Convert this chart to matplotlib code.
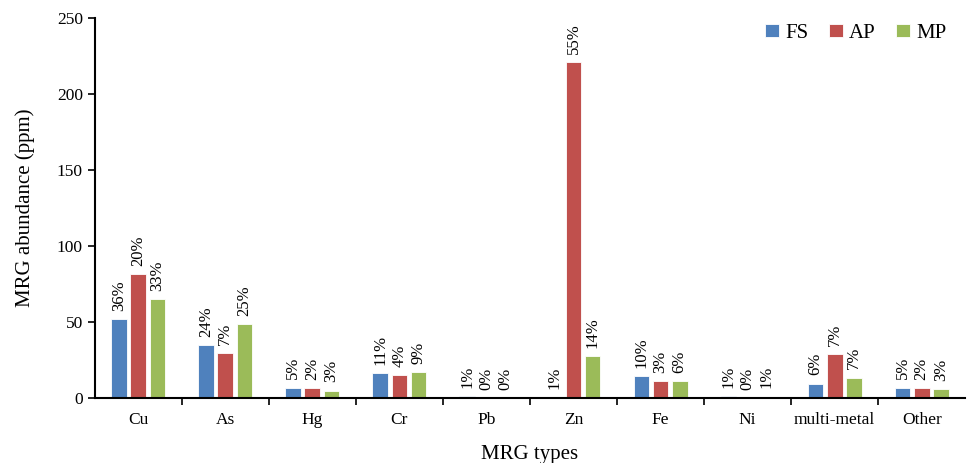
import numpy as np
import matplotlib.pyplot as plt

plt.rcParams['font.family'] = ['Liberation Serif', 'DejaVu Serif']

# Категорії та значення (ppm)
categories = ['Cu', 'As', 'Hg', 'Cr', 'Pb', 'Zn', 'Fe', 'Ni', 'multi-metal', 'Other']
fs = [52, 35, 7, 16.5, 1.5, 0.5, 14.5, 1.5, 9.5, 7]
ap = [81.5, 29.5, 6.5, 15, 0, 221, 11, 0, 29, 6.5]
mp = [65, 48.5, 5, 17, 0, 27.5, 11, 1, 13.5, 6]

fs_pct = ['36%', '24%', '5%', '11%', '1%', '1%', '10%', '1%', '6%', '5%']
ap_pct = ['20%', '7%', '2%', '4%', '0%', '55%', '3%', '0%', '7%', '2%']
mp_pct = ['33%', '25%', '3%', '9%', '0%', '14%', '6%', '1%', '7%', '3%']

series = [('FS', fs, fs_pct, '#4F81BD'),
          ('AP', ap, ap_pct, '#C0504D'),
          ('MP', mp, mp_pct, '#9BBB59')]

x = np.arange(len(categories))
width = 0.18
offsets = [-0.22, 0, 0.22]

fig = plt.figure(figsize=(9.76, 4.63), dpi=100)
ax = fig.add_axes([0.097, 0.14, 0.892, 0.821])

for (name, vals, pcts, color), off in zip(series, offsets):
    bars = ax.bar(x + off, vals, width, color=color, label=name,
                  edgecolor='white', linewidth=0.6)
    for b, p in zip(bars, pcts):
        ax.annotate(p, (b.get_x() + b.get_width() / 2, b.get_height()),
                    xytext=(0, 6), textcoords='offset points',
                    rotation=90, ha='center', va='bottom', fontsize=12)

ax.set_xlim(-0.5, len(categories) - 0.5)
ax.set_ylim(0, 250)
ax.set_yticks(np.arange(0, 251, 50))
ax.set_xticks(x)
ax.set_xticklabels(categories, fontsize=12.5)
ax.set_xticks(np.arange(0.5, len(categories) - 1, 1), minor=True)
ax.tick_params(axis='x', which='major', length=0, pad=10)
ax.tick_params(axis='x', which='minor', length=5, width=1.2, direction='out')
ax.tick_params(axis='y', labelsize=12.5, length=5, width=1.2, direction='out')
for s in ['top', 'right']:
    ax.spines[s].set_visible(False)
for s in ['left', 'bottom']:
    ax.spines[s].set_linewidth(1.5)

ax.set_xlabel('MRG types', fontsize=15, labelpad=12)
ax.set_ylabel('MRG abundance (ppm)', fontsize=15, labelpad=16)

ax.legend(loc='upper right', ncol=3, frameon=False, fontsize=15,
          handlelength=0.65, handleheight=0.65, handletextpad=0.3,
          columnspacing=1.0, bbox_to_anchor=(1.0, 1.035))

fig.savefig('out.png', dpi=100)
